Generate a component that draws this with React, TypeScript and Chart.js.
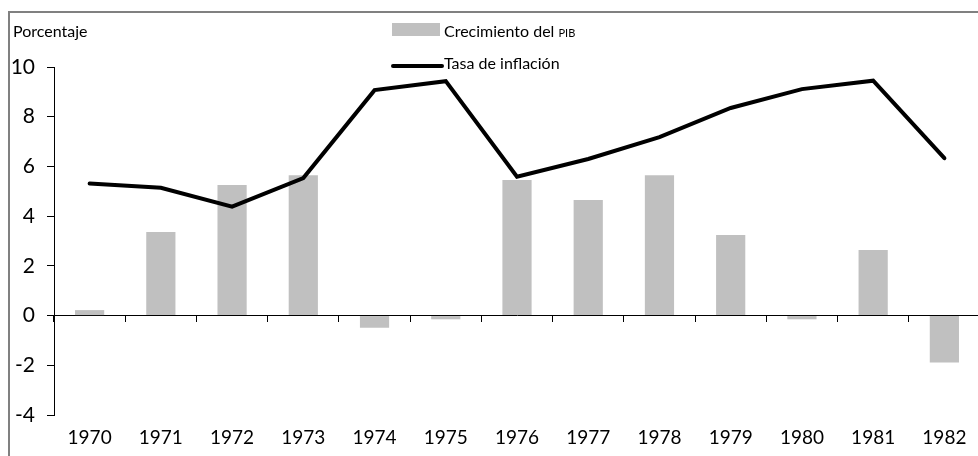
import React, { useEffect, useRef } from "react";
import { Chart, registerables } from "chart.js";

Chart.register(...registerables);

const FONT = "Lato, 'DejaVu Sans', sans-serif";

const years = ["1970", "1971", "1972", "1973", "1974", "1975", "1976", "1977", "1978", "1979", "1980", "1981", "1982"];
const gdpGrowth = [0.22, 3.36, 5.25, 5.65, -0.49, -0.15, 5.45, 4.65, 5.65, 3.24, -0.15, 2.64, -1.89];
const inflation = [5.31, 5.14, 4.38, 5.53, 9.07, 9.43, 5.59, 6.3, 7.18, 8.35, 9.11, 9.45, 6.33];
const yTicks = [-4, -2, 0, 2, 4, 6, 8, 10];
const yAxisTitle = "Porcentaje";
const gdpLabel = "Crecimiento del PIB";
const inflationLabel = "Tasa de inflación";

const overlay = {
  id: "overlay",
  afterDraw(chart: any) {
    const ctx = chart.ctx;
    const ds = chart.data.datasets;
    ctx.save();
    ctx.textAlign = "left";
    ctx.textBaseline = "alphabetic";
    ctx.fillStyle = "#000";
    ctx.font = `16px ${FONT}`;
    ctx.fillText(yAxisTitle, 3, 24);

    // bar legend
    ctx.fillStyle = ds[0].backgroundColor;
    ctx.fillRect(382, 10, 48, 13);
    ctx.fillStyle = "#000";
    ctx.font = `16px ${FONT}`;
    const words = String(ds[0].label).split(" ");
    const last = words.pop() as string;
    const main = words.join(" ") + " ";
    ctx.fillText(main, 434, 24);
    const w = ctx.measureText(main).width;
    ctx.font = `11px ${FONT}`;
    ctx.fillText(last, 434 + w, 24);

    // line legend
    ctx.strokeStyle = "#000";
    ctx.lineWidth = 4;
    ctx.lineCap = "round";
    ctx.beginPath();
    ctx.moveTo(383, 53);
    ctx.lineTo(432, 53);
    ctx.stroke();
    ctx.font = `16px ${FONT}`;
    ctx.fillText(String(ds[1].label), 434, 56);
    ctx.restore();
  },
};

export default function App() {
  const ref = useRef<HTMLCanvasElement>(null);
  useEffect(() => {
    const chart = new Chart(ref.current as HTMLCanvasElement, {
      type: "bar",
      data: {
        labels: years,
        datasets: [
          {
            type: "bar",
            label: gdpLabel,
            data: gdpGrowth,
            backgroundColor: "#c0c0c0",
            borderWidth: 0,
            barPercentage: 0.41,
            categoryPercentage: 1,
            order: 1,
          } as any,
          {
            type: "line",
            label: inflationLabel,
            data: inflation,
            borderColor: "#000",
            borderWidth: 4,
            pointRadius: 0,
            tension: 0,
            borderJoinStyle: "miter",
            borderCapStyle: "round",
            order: 0,
          } as any,
        ],
      },
      options: {
        animation: false,
        responsive: false,
        layout: { padding: { top: 54, right: 10, bottom: 0, left: 0 } },
        plugins: { legend: { display: false }, tooltip: { enabled: false }, title: { display: false } },
        scales: {
          x: {
            type: "category",
            position: "bottom",
            offset: true,
            grid: { display: false, drawTicks: false },
            border: { display: false },
            ticks: { color: "#000", font: { family: FONT, size: 19 }, padding: 11, maxRotation: 0, autoSkip: false },
            afterFit: (s: any) => {
              s.height = 41;
            },
          },
          x2: {
            type: "category",
            position: { y: 0 } as any,
            offset: true,
            grid: { display: true, drawOnChartArea: false, drawTicks: true, tickLength: 6, color: "#000", offset: true },
            border: { display: true, color: "#000", width: 1 },
            ticks: { display: false },
          },
          y: {
            type: "linear",
            position: "left",
            min: -4,
            max: 10,
            afterBuildTicks: (s: any) => {
              s.ticks = yTicks.map((v) => ({ value: v }));
            },
            grid: { display: true, drawOnChartArea: false, drawTicks: true, tickLength: 7, color: "#000" },
            border: { display: true, color: "#000", width: 1 },
            ticks: { color: "#000", font: { family: FONT, size: 21 }, padding: 12 },
            afterFit: (s: any) => {
              s.width = 44;
            },
          },
        },
      },
      plugins: [overlay],
    });
    return () => chart.destroy();
  }, []);

  return (
    <div
      style={{
        position: "fixed",
        left: 8,
        top: 11,
        width: 1000,
        height: 460,
        borderLeft: "2px solid #808080",
        borderTop: "2px solid #808080",
        background: "#fff",
        overflow: "hidden",
      }}
    >
      <canvas ref={ref} width={980} height={443} style={{ display: "block", width: 980, height: 443 }} />
    </div>
  );
}
